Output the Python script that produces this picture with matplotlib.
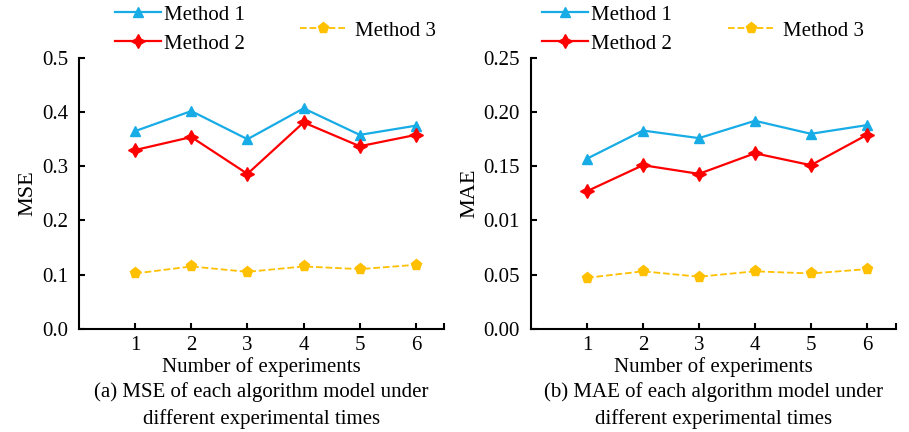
import matplotlib
matplotlib.use("Agg")
import matplotlib.pyplot as plt

plt.rcParams['font.family'] = ['Liberation Serif', 'DejaVu Serif']
plt.rcParams['font.size'] = 15

experiments = [1, 2, 3, 4, 5, 6]
xtick_labels = ['1', '2', '3', '4', '5', '6']
series_names = ['Method 1', 'Method 2', 'Method 3']

mse_m1 = [0.365, 0.402, 0.350, 0.407, 0.358, 0.375]
mse_m2 = [0.330, 0.354, 0.286, 0.381, 0.337, 0.358]
mse_m3 = [0.102, 0.115, 0.105, 0.115, 0.110, 0.118]

mae_m1 = [0.157, 0.183, 0.176, 0.192, 0.180, 0.188]
mae_m2 = [0.127, 0.151, 0.143, 0.162, 0.151, 0.179]
mae_m3 = [0.047, 0.053, 0.048, 0.053, 0.051, 0.055]

mse_ticks = [0.0, 0.1, 0.2, 0.3, 0.4, 0.5]
mse_tick_labels = ['0.0', '0.1', '0.2', '0.3', '0.4', '0.5']
mae_ticks = [0.0, 0.05, 0.10, 0.15, 0.20, 0.25]
mae_tick_labels = ['0.00', '0.05', '0.01', '0.15', '0.20', '0.25']

colors = ['#18ACE6', '#FF0000', '#FFC000']
markers = ['^', (4, 1, 0), 'p']
styles = ['-', '-', '--']
msizes = [7.5, 10, 8]
lwidths = [1.6, 1.6, 1.3]

FS = 15

fig = plt.figure(figsize=(9.09, 4.32), dpi=100)
W, H = 909, 432

def px_axes(x0, x1, ytop, ybot):
    return fig.add_axes([x0 / W, 1 - ybot / H, (x1 - x0) / W, (ybot - ytop) / H])

ax1 = px_axes(79, 444, 58, 328.7)
ax2 = px_axes(531, 896, 58, 328.7)

panels = [
    (ax1, [mse_m1, mse_m2, mse_m3], mse_ticks, mse_tick_labels, (0, 0.5), 'MSE',
     '(a) MSE of each algorithm model under', 6.5),
    (ax2, [mae_m1, mae_m2, mae_m3], mae_ticks, mae_tick_labels, (0, 0.25), 'MAE',
     '(b) MAE of each algorithm model under', 6.52),
]

for ax, data, yt, ytl, ylim, ylab, cap, xmax in panels:
    for vals, c, m, ls, ms, lw, name in zip(data, colors, markers, styles, msizes, lwidths, series_names):
        ax.plot(experiments, vals, color=c, marker=m, linestyle=ls, markersize=ms,
                linewidth=lw, markeredgecolor=c, markerfacecolor=c, label=name, clip_on=False)
    ax.set_xlim(0, xmax)
    ax.set_ylim(*ylim)
    ax.set_xticks(experiments)
    ax.set_xticklabels(xtick_labels)
    ax.set_xticks([xmax], minor=True)
    ax.set_yticks(yt)
    ax.set_yticklabels(ytl)
    for s in ['top', 'right']:
        ax.spines[s].set_visible(False)
    for s in ['left', 'bottom']:
        ax.spines[s].set_linewidth(1.5)
    ax.tick_params(axis='both', direction='in', length=4, width=1.5, labelsize=FS)
    ax.tick_params(axis='x', which='minor', direction='in', length=4, width=1.5)
    ax.tick_params(axis='x', pad=5)
    ax.tick_params(axis='y', pad=8)
    ax.set_xlabel('Number of experiments', fontsize=FS, labelpad=2)
    ax.set_ylabel(ylab, fontsize=16, labelpad=3)

    bb = ax.get_position()
    cx = (bb.x0 + bb.x1) / 2
    fig.text(cx, 1 - 392 / H, cap, ha='center', va='center', fontsize=FS)
    fig.text(cx, 1 - 419 / H, 'different experimental times', ha='center', va='center', fontsize=FS)

def add_legends(ax, lines, x_l1, x_l2):
    leg1 = ax.legend(lines[:2], series_names[:2], loc='upper left',
                     bbox_to_anchor=(x_l1 / W, 1 - 5 / H), bbox_transform=fig.transFigure,
                     frameon=False, handlelength=2.2, handletextpad=0.15, labelspacing=0.45,
                     borderpad=0, borderaxespad=0, fontsize=FS)
    ax.add_artist(leg1)
    ax.legend(lines[2:], series_names[2:], loc='upper left',
              bbox_to_anchor=(x_l2 / W, 1 - 21 / H), bbox_transform=fig.transFigure,
              frameon=False, handlelength=2.2, handletextpad=0.45,
              borderpad=0, borderaxespad=0, fontsize=FS)

add_legends(ax1, ax1.get_lines(), 115, 300)
add_legends(ax2, ax2.get_lines(), 542, 728)

fig.savefig('out.png', dpi=100)
